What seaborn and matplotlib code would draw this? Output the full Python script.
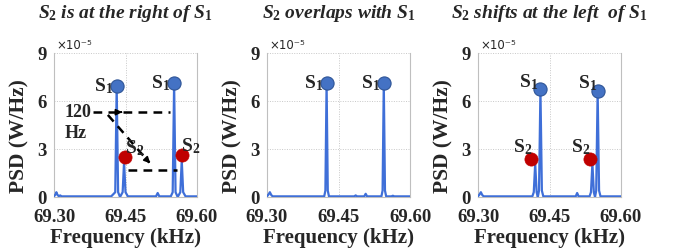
import matplotlib
matplotlib.use("Agg")
import matplotlib.pyplot as plt
import seaborn as sns
import pandas as pd
import numpy as np

# PSD spectra, values in units of 1e-5 W/Hz, frequency in kHz
freq_right = [69.300, 69.303, 69.305, 69.307, 69.310, 69.313, 69.316, 69.420, 69.4285, 69.4315,
              69.4345, 69.4385, 69.444, 69.447, 69.450, 69.455, 69.514, 69.5175, 69.521, 69.545,
              69.549, 69.552, 69.555, 69.5595, 69.565, 69.568, 69.571, 69.576, 69.600]
psd_right = [0.05, 0.15, 0.30, 0.15, 0.05, 0.10, 0.04, 0.04, 0.30, 6.90,
             0.30, 0.00, 0.30, 2.20, 0.30, 0.04, 0.04, 0.25, 0.04, 0.04,
             0.30, 7.10, 0.30, 0.00, 0.30, 2.30, 0.30, 0.04, 0.04]

freq_overlap = [69.300, 69.303, 69.306, 69.309, 69.312, 69.380, 69.420, 69.4225, 69.425, 69.4275,
                69.430, 69.483, 69.486, 69.489, 69.504, 69.507, 69.510, 69.540, 69.5425, 69.545,
                69.5475, 69.550, 69.561, 69.564, 69.567, 69.600]
psd_overlap = [0.05, 0.15, 0.30, 0.12, 0.04, 0.04, 0.04, 0.40, 7.10, 0.40,
               0.04, 0.04, 0.10, 0.04, 0.04, 0.20, 0.04, 0.04, 0.40, 7.10,
               0.40, 0.04, 0.04, 0.08, 0.04, 0.04]

freq_left = [69.300, 69.303, 69.306, 69.309, 69.312, 69.414, 69.417, 69.420, 69.423, 69.4255,
             69.428, 69.431, 69.434, 69.437, 69.505, 69.508, 69.511, 69.534, 69.537, 69.540,
             69.543, 69.5455, 69.548, 69.551, 69.554, 69.557, 69.600]
psd_left = [0.05, 0.15, 0.30, 0.12, 0.04, 0.04, 0.30, 2.10, 0.30, 0.00,
            0.40, 6.70, 0.40, 0.04, 0.04, 0.25, 0.04, 0.04, 0.30, 2.10,
            0.30, 0.00, 0.40, 6.60, 0.40, 0.04, 0.04]

# marker positions (S1 blue, S2 red)
s1_x_right = [69.4315, 69.552]
s1_y_right = [6.95, 7.13]
s2_x_right = [69.449, 69.568]
s2_y_right = [2.51, 2.62]

s1_x_overlap = [69.426, 69.546]
s1_y_overlap = [7.13, 7.13]

s1_x_left = [69.430, 69.552]
s1_y_left = [6.74, 6.65]
s2_x_left = [69.412, 69.534]
s2_y_left = [2.38, 2.35]

titles = [r"$\mathit{S}_\mathit{2}$ is at the right of $\mathit{S}_\mathit{1}$",
          r"$\mathit{S}_\mathit{2}$ overlaps with $\mathit{S}_\mathit{1}$",
          r"$\mathit{S}_\mathit{2}$ shifts at the left  of $\mathit{S}_\mathit{1}$"]
xticks = [69.30, 69.45, 69.60]
yticks = [0, 3, 6, 9]

sns.set_theme(style="white")
plt.rcParams['font.family'] = ['Liberation Serif', 'DejaVu Serif']
plt.rcParams['mathtext.fontset'] = 'custom'
plt.rcParams['mathtext.rm'] = 'Liberation Serif:bold'
plt.rcParams['mathtext.bf'] = 'Liberation Serif:bold'
plt.rcParams['mathtext.it'] = 'Liberation Serif:italic:bold'

line_col = "#3f6fd8"
blue = "#4472c4"
blue_edge = "#2f5597"
red = "#c00000"

fig = plt.figure(figsize=(6.78, 2.5), dpi=100)
lefts = [54 / 678, 267 / 678, 478 / 678]
axs = [fig.add_axes([l, 53 / 250, 143 / 678, 144 / 250]) for l in lefts]

spectra = [(freq_right, psd_right), (freq_overlap, psd_overlap), (freq_left, psd_left)]
s1_pts = [(s1_x_right, s1_y_right), (s1_x_overlap, s1_y_overlap), (s1_x_left, s1_y_left)]
s2_pts = [(s2_x_right, s2_y_right), None, (s2_x_left, s2_y_left)]
# label offsets (dx kHz, dy PSD) relative to markers
s1_off = [(-0.008, 0.0), (-0.008, 0.0), (-0.003, 0.45)]
s2_off = [(-0.001, 0.55), None, (0.001, 0.75)]
s2_ha = ["left", None, "right"]

for i, ax in enumerate(axs):
    df = pd.DataFrame({"Frequency (kHz)": spectra[i][0], "PSD": spectra[i][1]})
    sns.lineplot(data=df, x="Frequency (kHz)", y="PSD", ax=ax, color=line_col,
                 linewidth=1.6, sort=False, estimator=None, zorder=3)
    s1 = pd.DataFrame({"x": s1_pts[i][0], "y": s1_pts[i][1]})
    sns.scatterplot(data=s1, x="x", y="y", ax=ax, s=90, color=blue, edgecolor=blue_edge,
                    linewidth=0.8, zorder=5)
    for x, y in zip(s1_pts[i][0], s1_pts[i][1]):
        ax.text(x + s1_off[i][0], y + s1_off[i][1], r"$\mathbf{S}_\mathbf{1}$", ha="right",
                va="center", fontsize=14, zorder=6)
    if s2_pts[i] is not None:
        s2 = pd.DataFrame({"x": s2_pts[i][0], "y": s2_pts[i][1]})
        sns.scatterplot(data=s2, x="x", y="y", ax=ax, s=90, color=red, edgecolor=red,
                        linewidth=0.5, zorder=5)
        for x, y in zip(s2_pts[i][0], s2_pts[i][1]):
            ax.text(x + s2_off[i][0], y + s2_off[i][1], r"$\mathbf{S}_\mathbf{2}$", ha=s2_ha[i],
                    va="center", fontsize=14, zorder=6)

    ax.set_xlim(69.30, 69.60)
    ax.set_ylim(0, 9)
    ax.set_xticks(xticks)
    ax.set_xticklabels(["%.2f" % t for t in xticks])
    ax.set_yticks(yticks)
    ax.set_yticklabels([str(t) for t in yticks])
    ax.tick_params(axis="x", length=0, pad=9, labelsize=13.5)
    ax.tick_params(axis="y", length=0, pad=5, labelsize=13.5)
    for lab in ax.get_xticklabels() + ax.get_yticklabels():
        lab.set_fontweight("bold")
    ax.set_xlabel("Frequency (kHz)", fontsize=15, fontweight="bold", labelpad=1)
    ax.set_ylabel("PSD (W/Hz)", fontsize=15.5, fontweight="bold")
    ax.yaxis.set_label_coords(-0.17, 0.42)
    ax.grid(True, linestyle=(0, (1, 1.5)), color="#c8c8c8", linewidth=0.7)
    ax.spines["top"].set_visible(False)
    for s in ["left", "right", "bottom"]:
        ax.spines[s].set_color("#bfbfbf")
        ax.spines[s].set_linewidth(0.8)
    ax.text(0.02, 1.005, "\u00d710\u207b\u2075", transform=ax.transAxes, ha="left", va="bottom",
            fontsize=8.5, family="DejaVu Sans")
    ax.text(0.5, 1 + 40 / 144, titles[i], transform=ax.transAxes, ha="center", va="center",
            fontsize=14, fontweight="bold", style="italic")

# 120 Hz annotation on the first panel
ax = axs[0]
ax.text(69.322, 5.3, "120", fontsize=13, fontweight="bold", va="center", ha="left", zorder=6)
ax.text(69.322, 3.95, "Hz", fontsize=13, fontweight="bold", va="center", ha="left", zorder=6)
dash = (0, (3.5, 2.5))
ax.plot([69.382, 69.543], [5.3, 5.3], color="black", linewidth=1.8, linestyle=dash, zorder=4)
ax.annotate("", xy=(69.449, 5.3), xytext=(69.435, 5.3),
            arrowprops=dict(arrowstyle="-|>", color="black", lw=1.2, mutation_scale=9), zorder=4)
ax.plot([69.413, 69.500], [5.13, 2.15], color="black", linewidth=1.8, linestyle=dash, zorder=4)
ax.annotate("", xy=(69.506, 1.98), xytext=(69.494, 2.35),
            arrowprops=dict(arrowstyle="-|>", color="black", lw=1.2, mutation_scale=9), zorder=4)
ax.plot([69.455, 69.558], [1.68, 1.68], color="black", linewidth=1.8, linestyle=dash, zorder=4)

fig.savefig("out.png", dpi=100)
